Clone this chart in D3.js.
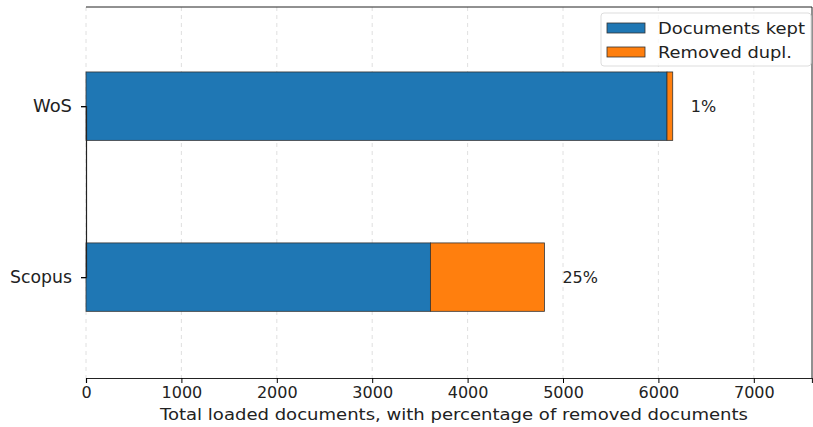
<!DOCTYPE html>
<html>
<head>
<meta charset="utf-8">
<script src="https://cdn.jsdelivr.net/npm/d3@7"></script>
<style>
  body { margin: 0; background: #fff; }
  svg text { font-family: "DejaVu Sans", sans-serif; fill: #222; }
</style>
</head>
<body>
<div id="chart"></div>
<script>
// Sources and counts
const sources = ["WoS", "Scopus"];
const kept = [6090, 3610];
const removed = [60, 1195];
const percentLabels = ["1%", "25%"];
const xTicks = [0, 1000, 2000, 3000, 4000, 5000, 6000, 7000];
const legendLabels = ["Documents kept", "Removed dupl."];
const colors = ["#1f77b4", "#ff7f0e"];

const W = 813, H = 427;
const margin = { top: 7, right: 1, bottom: 49, left: 86 };
const width = W - margin.left - margin.right;
const height = H - margin.top - margin.bottom;
const fs = "16px";

const svg = d3.select("#chart").append("svg")
  .attr("width", W)
  .attr("height", H);

const g = svg.append("g")
  .attr("transform", "translate(" + margin.left + "," + margin.top + ")");

// Scales
const x = d3.scaleLinear().domain([0, 7610]).range([0, width]);
// positions: Scopus = 0, WoS = 1
const pos = d3.scaleLinear().domain([-0.59, 1.58]).range([height, 0]);
const barH = pos(0) - pos(0.4);
const yOf = i => pos(sources.length - 1 - i);

// Grid lines
g.selectAll("line.grid")
  .data(xTicks)
  .join("line")
  .attr("class", "grid")
  .attr("x1", d => x(d))
  .attr("x2", d => x(d))
  .attr("y1", 0)
  .attr("y2", height)
  .attr("stroke", "#d8d8d8")
  .attr("stroke-width", 0.8)
  .attr("stroke-dasharray", "4,4");

// Kept bars
g.selectAll("rect.kept")
  .data(sources)
  .join("rect")
  .attr("class", "kept")
  .attr("x", x(0))
  .attr("y", (d, i) => yOf(i) - barH / 2)
  .attr("width", (d, i) => x(kept[i]) - x(0))
  .attr("height", barH)
  .attr("fill", colors[0])
  .attr("stroke", "#333")
  .attr("stroke-width", 0.8);

// Removed bars
g.selectAll("rect.removed")
  .data(sources)
  .join("rect")
  .attr("class", "removed")
  .attr("x", (d, i) => x(kept[i]))
  .attr("y", (d, i) => yOf(i) - barH / 2)
  .attr("width", (d, i) => x(kept[i] + removed[i]) - x(kept[i]))
  .attr("height", barH)
  .attr("fill", colors[1])
  .attr("stroke", "#333")
  .attr("stroke-width", 0.8);

// Percentage labels
g.selectAll("text.pct")
  .data(percentLabels)
  .join("text")
  .attr("class", "pct")
  .attr("x", (d, i) => x(kept[i] + removed[i]) + 18)
  .attr("y", (d, i) => yOf(i))
  .attr("dy", "0.35em")
  .style("font-size", fs)
  .text(d => d);

// Spines
g.append("line")
  .attr("x1", 0).attr("x2", width).attr("y1", 0).attr("y2", 0)
  .attr("stroke", "#222").attr("stroke-width", 1);
g.append("line")
  .attr("x1", width).attr("x2", width).attr("y1", 0).attr("y2", height)
  .attr("stroke", "#222").attr("stroke-width", 1);

// X axis
const gX = g.append("g")
  .attr("transform", "translate(0," + height + ")")
  .call(d3.axisBottom(x).tickValues(xTicks).tickFormat(d3.format("d")).tickSize(5).tickPadding(4));
gX.select(".domain").attr("stroke", "#222").attr("stroke-width", 1.2);
gX.selectAll("text").style("font-size", fs).style("font-family", "DejaVu Sans").attr("fill", "#222");

// Y axis
const yLabelWidth = { "WoS": 39, "Scopus": 62 };
const gY = g.append("g")
  .call(d3.axisLeft(d3.scalePoint().domain(sources).range([yOf(0), yOf(1)])).tickSize(5).tickPadding(9));
gY.select(".domain").attr("stroke", "#222").attr("stroke-width", 1.2);
gY.selectAll("text")
  .style("font-size", "17px").style("font-family", "DejaVu Sans").attr("fill", "#222")
  .attr("textLength", d => yLabelWidth[d])
  .attr("lengthAdjust", "spacingAndGlyphs");

// X label
svg.append("text")
  .attr("x", 160)
  .attr("y", 420)
  .attr("textLength", 588)
  .attr("lengthAdjust", "spacingAndGlyphs")
  .style("font-size", fs)
  .text("Total loaded documents, with percentage of removed documents");

// Legend
const legendWidth = [147, 134];
const lg = svg.append("g").attr("transform", "translate(601,13)");
lg.append("rect")
  .attr("width", 210).attr("height", 53)
  .attr("rx", 3)
  .attr("fill", "#fff").attr("fill-opacity", 0.8)
  .attr("stroke", "#ddd");
legendLabels.forEach((label, i) => {
  lg.append("rect")
    .attr("x", 6).attr("y", 10 + i * 24)
    .attr("width", 38).attr("height", 10)
    .attr("fill", colors[i]).attr("stroke", "#333").attr("stroke-width", 0.8);
  lg.append("text")
    .attr("x", 57).attr("y", 15 + i * 24)
    .attr("dy", "0.35em")
    .attr("textLength", legendWidth[i])
    .attr("lengthAdjust", "spacingAndGlyphs")
    .style("font-size", fs)
    .text(label);
});
</script>
</body>
</html>
